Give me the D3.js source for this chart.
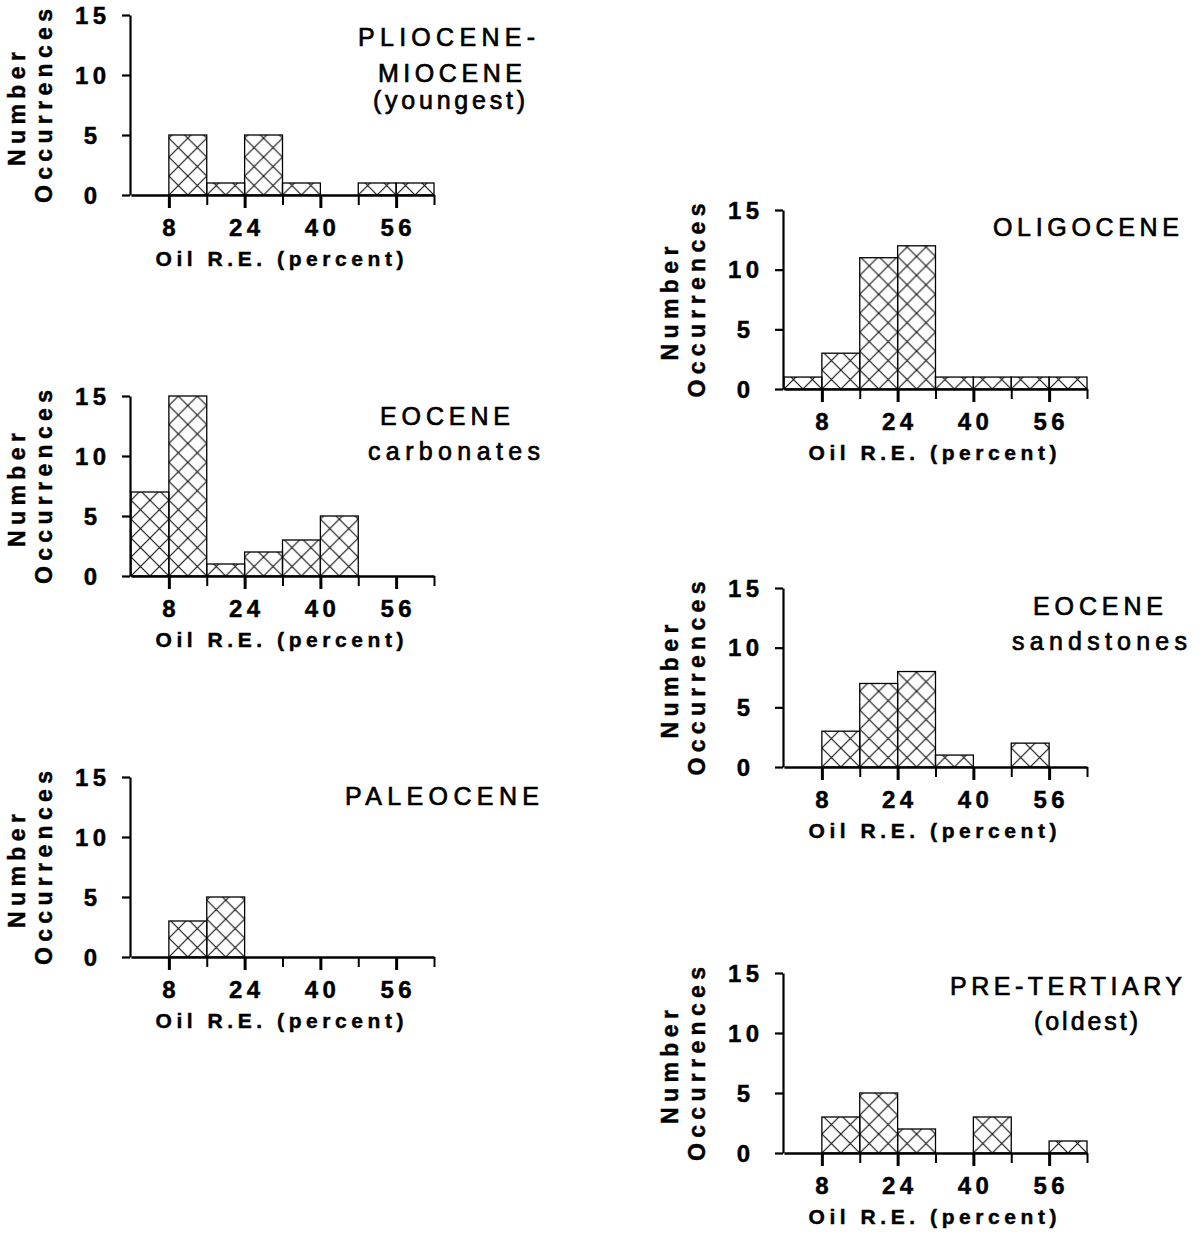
<!DOCTYPE html>
<html>
<head>
<meta charset="utf-8">
<script src="https://cdn.jsdelivr.net/npm/d3@7"></script>
<style>
  html, body { margin: 0; padding: 0; background: #fff; }
  svg { display: block; }
  text { font-family: "Liberation Sans", Arial, Helvetica, sans-serif; fill: #000; }
  text.heavy { stroke: #000; stroke-width: 0.45px; }
</style>
</head>
<body>
<svg id="chart" width="1202" height="1234"></svg>
<script>
// ---------- DATA ----------
const binEdges = [0, 8, 16, 24, 32, 40, 48, 56, 64];
const xTickMajor = [8, 24, 40, 56];
const xTickMinor = [16, 32, 48, 64];
const yTicks = [0, 5, 10, 15];

const plioMioceneCounts   = [0, 5, 1, 5, 1, 0, 1, 1];
const eoceneCarbCounts    = [7, 15, 1, 2, 3, 5, 0, 0];
const paleoceneCounts     = [0, 3, 5, 0, 0, 0, 0, 0];
const oligoceneCounts     = [1, 3, 11, 12, 1, 1, 1, 1];
const eoceneSandCounts    = [0, 3, 7, 8, 1, 0, 2, 0];
const preTertiaryCounts   = [0, 3, 5, 2, 0, 3, 0, 1];

const plioMioceneTitle = ["PLIOCENE-", "MIOCENE", "(youngest)"];
const eoceneCarbTitle  = ["EOCENE", "carbonates"];
const paleoceneTitle   = ["PALEOCENE"];
const oligoceneTitle   = ["OLIGOCENE"];
const eoceneSandTitle  = ["EOCENE", "sandstones"];
const preTertiaryTitle = ["PRE-TERTIARY", "(oldest)"];

const xAxisTitle = "Oil R.E. (percent)";
const yAxisTitle = ["Number", "Occurrences"];

// ---------- LAYOUT ----------
const panels = [
  { counts: plioMioceneCounts, title: plioMioceneTitle, axisX: 130, x0: 131, x1: 434, top: 15, base: 195,
    titleX: [446.5, 450, 449], titleY: [46, 82, 109], titleW: [177, 144, 152] },
  { counts: eoceneCarbCounts, title: eoceneCarbTitle, axisX: 130, x0: 131, x1: 434, top: 396, base: 576,
    titleX: [445, 454], titleY: [425, 460], titleW: [130, 172] },
  { counts: paleoceneCounts, title: paleoceneTitle, axisX: 130, x0: 131, x1: 434, top: 777, base: 957,
    titleX: [442], titleY: [805], titleW: [194] },
  { counts: oligoceneCounts, title: oligoceneTitle, axisX: 783, x0: 784, x1: 1087, top: 210, base: 389,
    titleX: [1086], titleY: [236], titleW: [186] },
  { counts: eoceneSandCounts, title: eoceneSandTitle, axisX: 783, x0: 784, x1: 1087, top: 588, base: 767,
    titleX: [1098, 1099.5], titleY: [615, 650], titleW: [130, 175] },
  { counts: preTertiaryCounts, title: preTertiaryTitle, axisX: 783, x0: 784, x1: 1087, top: 973, base: 1153,
    titleX: [1066, 1086], titleY: [995, 1030], titleW: [232, 104] }
];

const svg = d3.select("#chart");
const defs = svg.append("defs");

const TICK_LS = 4.5;

panels.forEach((p, i) => {
  const x = d3.scaleLinear().domain([0, 64]).range([p.x0, p.x1]);
  const y = d3.scaleLinear().domain([0, 15]).range([p.base, p.top]);
  const g = svg.append("g");

  // crosshatch pattern aligned to this panel
  const cell = (x(8) - x(0)) / 2;
  const pat = defs.append("pattern")
    .attr("id", "hatch" + i)
    .attr("patternUnits", "userSpaceOnUse")
    .attr("x", x(0)).attr("y", p.base)
    .attr("width", cell).attr("height", cell);
  pat.append("path")
    .attr("d", `M0,0L${cell},${cell}M${cell},0L0,${cell}`)
    .attr("stroke", "#111").attr("stroke-width", 1.15).attr("fill", "none");

  // bars
  const bins = p.counts.map((c, k) => ({ lo: binEdges[k], hi: binEdges[k + 1], c }))
    .filter(d => d.c > 0);
  g.selectAll("rect.bar").data(bins).join("rect")
    .attr("class", "bar")
    .attr("x", d => x(d.lo)).attr("width", d => x(d.hi) - x(d.lo))
    .attr("y", d => y(d.c)).attr("height", d => y(0) - y(d.c))
    .attr("fill", `url(#hatch${i})`)
    .attr("stroke", "#000").attr("stroke-width", 1.3);

  // y axis
  const ya = g.append("g").attr("transform", `translate(${p.axisX},0)`)
    .call(d3.axisLeft(y).tickValues(yTicks).tickSize(8).tickSizeOuter(0).tickFormat(""));
  ya.select(".domain").attr("stroke-width", 2.2);
  ya.selectAll(".tick line").attr("stroke-width", 2.2);
  g.selectAll("text.ytl").data(yTicks).join("text")
    .attr("class", "ytl heavy")
    .attr("x", p.axisX - 39.5 + TICK_LS / 2)
    .attr("y", d => y(d) + 8.5)
    .attr("text-anchor", "middle")
    .style("font-size", "24px").style("font-weight", "bold")
    .style("letter-spacing", TICK_LS + "px")
    .text(d => d);

  // x axis: major and minor ticks
  const xa = g.append("g").attr("transform", `translate(0,${p.base})`)
    .call(d3.axisBottom(x).tickValues(xTickMajor).tickSize(13).tickSizeOuter(0).tickFormat(""));
  xa.select(".domain").attr("stroke-width", 2.4);
  xa.selectAll(".tick line").attr("stroke-width", 3);
  const xm = g.append("g").attr("transform", `translate(0,${p.base})`)
    .call(d3.axisBottom(x).tickValues(xTickMinor).tickSize(10).tickSizeOuter(0).tickFormat(""));
  xm.select(".domain").remove();
  xm.selectAll(".tick line").attr("stroke-width", 2);

  g.selectAll("text.xtl").data(xTickMajor).join("text")
    .attr("class", "xtl heavy")
    .attr("x", d => x(d) + TICK_LS / 2)
    .attr("y", p.base + 41)
    .attr("text-anchor", "middle")
    .style("font-size", "24px").style("font-weight", "bold")
    .style("letter-spacing", TICK_LS + "px")
    .text(d => d);

  // x axis title
  g.append("text")
    .attr("class", "heavy")
    .attr("x", (p.x0 + p.x1) / 2 - 3)
    .attr("y", p.base + 71)
    .attr("text-anchor", "middle")
    .attr("textLength", 248).attr("lengthAdjust", "spacing")
    .style("font-size", "21px").style("font-weight", "bold")
    .text(xAxisTitle);

  // y axis title (two rotated lines)
  const cy = (p.top + p.base) / 2;
  [[yAxisTitle[0], p.axisX - 105, cy + 4, 114], [yAxisTitle[1], p.axisX - 78, cy + 1, 194]].forEach(([t, bx, c, w]) => {
    g.append("text")
      .attr("class", "heavy")
      .attr("transform", `translate(${bx},${c}) rotate(-90)`)
      .attr("text-anchor", "middle")
      .attr("textLength", w).attr("lengthAdjust", "spacing")
      .style("font-size", "23px").style("font-weight", "bold")
      .text(t);
  });

  // title
  p.title.forEach((t, k) => {
    g.append("text")
      .attr("x", p.titleX[k])
      .attr("y", p.titleY[k])
      .attr("text-anchor", "middle")
      .attr("textLength", p.titleW[k]).attr("lengthAdjust", "spacing")
      .style("font-size", "25px")
      .style("stroke", "#000").style("stroke-width", 0.7)
      .text(t);
  });
});
</script>
</body>
</html>
